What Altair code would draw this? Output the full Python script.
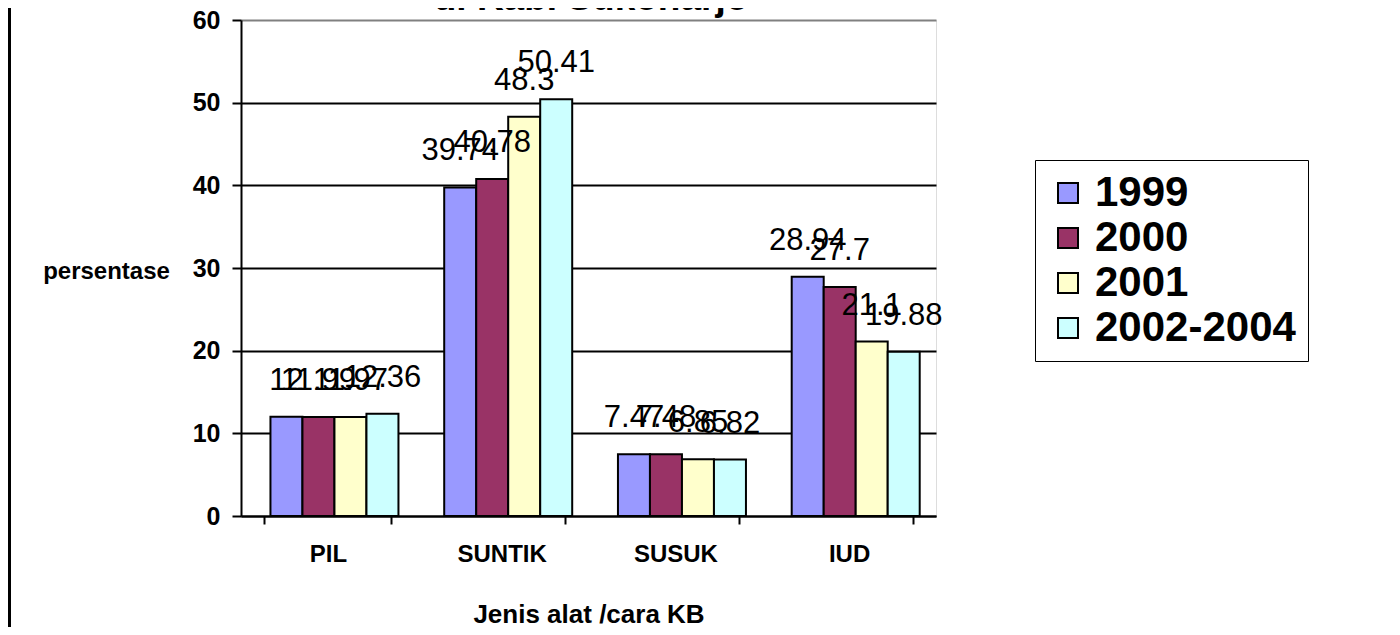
import altair as alt
import pandas as pd

categories = ["PIL", "SUNTIK", "SUSUK", "IUD"]
years = ["1999", "2000", "2001", "2002-2004"]
v1999 = [12, 39.74, 7.47, 28.94]
v2000 = [11.99, 40.78, 7.48, 27.7]
v2001 = [11.97, 48.3, 6.85, 21.1]
v2002 = [12.36, 50.41, 6.82, 19.88]
colors = ["#9999FF", "#993366", "#FFFFCC", "#CCFFFF"]
y_ticks = [0, 10, 20, 30, 40, 50, 60]
title_text = ["di Kab. Sukoharjo"]

rows = []
for yr, vals in zip(years, [v1999, v2000, v2001, v2002]):
    for c, v in zip(categories, vals):
        rows.append({"cat": c, "year": yr, "value": v, "label": f"{v:g}"})
df = pd.DataFrame(rows)

FONT = "Liberation Sans"

x = alt.X("cat:N", sort=categories,
          scale=alt.Scale(paddingInner=0.27, paddingOuter=0.135),
          axis=alt.Axis(title="Jenis alat /cara KB", labelAngle=0, tickBand="extent",
                        domainColor="black", domainWidth=2, tickColor="black",
                        tickWidth=2, tickSize=8, labelFont=FONT, labelFontSize=24,
                        labelFontWeight="bold", labelColor="black", labelPadding=18,
                        titleFont=FONT, titleFontSize=26, titleFontWeight="bold",
                        titleColor="black", titleY=106, titleBaseline="alphabetic"))
xo = alt.XOffset("year:N", sort=years,
                 scale=alt.Scale(paddingInner=0, paddingOuter=0, range=[6, 134]))
y = alt.Y("value:Q",
          scale=alt.Scale(domain=[0, 60], nice=False),
          axis=alt.Axis(title="persentase", values=y_ticks, domainColor="black",
                        domainWidth=2, tickColor="black", tickWidth=2, tickSize=9,
                        labelFont=FONT, labelFontSize=25, labelFontWeight="bold",
                        labelColor="black", labelPadding=12,
                        grid=True, gridWidth=2,
                        gridColor={"condition": {"test": "datum.value == 60", "value": "#808080"}, "value": "black"},
                        titleAngle=0, titleX=-135, titleY=251, titleAlign="center",
                        titleBaseline="middle", titleFont=FONT, titleFontSize=24,
                        titleFontWeight="bold", titleColor="black"))

bars = alt.Chart(df).mark_bar(stroke="black", strokeWidth=2).encode(
    x=x, xOffset=xo, y=y,
    color=alt.Color("year:N", sort=years, title=None,
                    scale=alt.Scale(domain=years, range=colors),
                    legend=alt.Legend(orient="none", legendX=794, legendY=140,
                                      strokeColor="black", fillColor="white",
                                      padding=12, symbolType="square", symbolSize=400,
                                      symbolStrokeColor="black", symbolStrokeWidth=2,
                                      labelFont=FONT, labelFontSize=42,
                                      labelFontWeight="bold", labelColor="black",
                                      labelOffset=6, rowPadding=3, labelLimit=400)),
)

labels = alt.Chart(df).mark_text(font=FONT, fontSize=31, color="black",
                                 baseline="alphabetic", dy=-27).encode(
    x=alt.X("cat:N", sort=categories), xOffset=xo, y="value:Q", text="label:N"
)

border = alt.Chart(pd.DataFrame({"v": [0]})).mark_rule(color="black", strokeWidth=3).encode(
    x=alt.value(-231.5), y=alt.value(-20), y2=alt.value(620)
)

title = alt.Chart(pd.DataFrame({"t": title_text})).mark_text(
    font=FONT, fontSize=37, fontWeight="bold", color="black",
    baseline="alphabetic", align="center").encode(
    text="t:N", x=alt.value(350), y=alt.value(-10)
)

chart = alt.layer(bars, labels, border, title).properties(
    width=695, height=496,
    autosize=alt.AutoSizeParams(type="none"),
    padding={"left": 233, "top": 12, "right": 456, "bottom": 111},
).configure_view(fill="#C0C0C0", stroke="#808080", strokeWidth=2).configure(background="white")

chart.save("out.html", embed_options={"renderer": "svg", "actions": False})
